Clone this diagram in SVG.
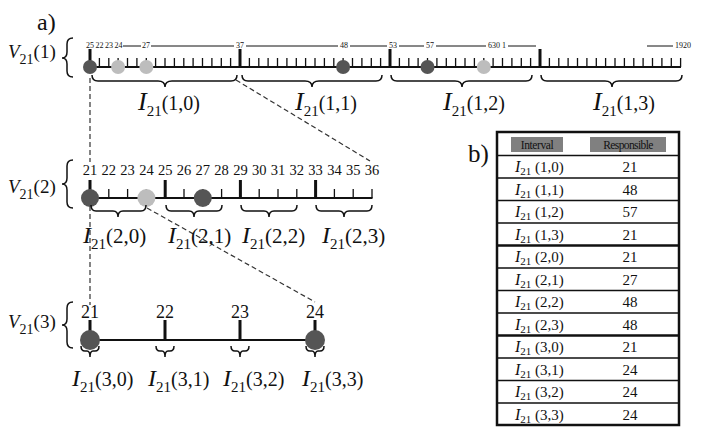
<svg xmlns="http://www.w3.org/2000/svg" xmlns:xlink="http://www.w3.org/1999/xlink" width="713" height="428" viewBox="0 0 713 428">
<style>
text{font-family:"Liberation Serif","Times New Roman",serif;fill:#111}
.it{font-style:italic}
.ln{stroke:#111;fill:none}
.brace{stroke:#111;fill:none;stroke-width:1.5}
.dash{stroke:#333;fill:none;stroke-width:1.2;stroke-dasharray:5,3}
.dark{fill:#555}
.light{fill:#bdbdbd}
.sm{font-size:8px}
.tb{font-size:15px}
</style>
<defs>
<g id="seg1">
<path class="ln" stroke-width="1.3" d="M99.4 58V67M108.8 58V67M118.1 58V67M127.5 58V67M136.9 58V67M146.3 58V67M155.6 58V67M165 58V67M174.4 58V67M183.8 58V67M193.1 58V67M202.5 58V67M211.9 58V67M221.3 58V67M230.6 58V67"/>
<path class="ln" stroke-width="3" d="M90 49V67"/>
</g>
</defs>
<rect width="713" height="428" fill="#fff"/>
<text x="37" y="30" font-size="24">a)</text>
<text x="468" y="162" font-size="25">b)</text>

<g id="connectors">
<path class="dash" stroke="#666" d="M90 78V162"/>
<path class="dash" stroke="#666" d="M90 206V305"/>
<path class="dash" d="M236 80L370 161"/>
<path class="dash" d="M147 208L315 302"/>
</g>

<g id="level1">
<text x="8" y="58"><tspan class="it" font-size="19">V</tspan><tspan font-size="14" dy="6">21</tspan><tspan font-size="19" dy="-6">(1)</tspan></text>
<path class="brace" d="M73 38Q67 38 67 44V52Q67 58 62 58Q67 58 67 64V71Q67 77 73 77"/>
<path class="ln" stroke-width="1" d="M123 46H141M151 46H234M246 46H338M350 46H387M399 46H424M436 46H486M508 46H536M647 46H673"/>
<text class="sm" x="90" y="48" text-anchor="middle">25</text>
<text class="sm" x="99.5" y="48" text-anchor="middle">22</text>
<text class="sm" x="109" y="48" text-anchor="middle">23</text>
<text class="sm" x="118.5" y="48" text-anchor="middle">24</text>
<text class="sm" x="146" y="48" text-anchor="middle">27</text>
<text class="sm" x="240" y="48" text-anchor="middle">37</text>
<text class="sm" x="344" y="48" text-anchor="middle">48</text>
<text class="sm" x="393" y="48" text-anchor="middle">53</text>
<text class="sm" x="430" y="48" text-anchor="middle">57</text>
<text class="sm" x="497" y="48" text-anchor="middle">630 1</text>
<text class="sm" x="683" y="48" text-anchor="middle">1920</text>
<use xlink:href="#seg1"/>
<use xlink:href="#seg1" x="150"/>
<use xlink:href="#seg1" x="300"/>
<use xlink:href="#seg1" x="450"/>
<path class="ln" stroke-width="2" d="M90 67H681"/>
<circle class="dark" cx="90" cy="67" r="7"/>
<circle class="light" cx="118.1" cy="67" r="7"/>
<circle class="light" cx="146.3" cy="67" r="7"/>
<circle class="dark" cx="343.1" cy="67" r="7"/>
<circle class="dark" cx="427.5" cy="67" r="7"/>
<circle class="light" cx="483.8" cy="67" r="7"/>
<path class="brace" d="M92 75Q92 81 98 81H158Q165 81 165 87Q165 81 172 81H231Q237 81 237 75"/>
<path class="brace" d="M242 75Q242 81 248 81H305Q312 81 312 87Q312 81 319 81H376Q382 81 382 75"/>
<path class="brace" d="M391 75Q391 81 397 81H455Q462 81 462 87Q462 81 469 81H526Q532 81 532 75"/>
<path class="brace" d="M541 75Q541 81 547 81H605Q612 81 612 87Q612 81 619 81H676Q682 81 682 75"/>
<text x="138" y="110"><tspan class="it" font-size="26">I</tspan><tspan font-size="15" dy="6">21</tspan><tspan font-size="20" dy="-6">(1,0)</tspan></text>
<text x="295" y="110"><tspan class="it" font-size="26">I</tspan><tspan font-size="15" dy="6">21</tspan><tspan font-size="20" dy="-6">(1,1)</tspan></text>
<text x="443" y="110"><tspan class="it" font-size="26">I</tspan><tspan font-size="15" dy="6">21</tspan><tspan font-size="20" dy="-6">(1,2)</tspan></text>
<text x="593" y="110"><tspan class="it" font-size="26">I</tspan><tspan font-size="15" dy="6">21</tspan><tspan font-size="20" dy="-6">(1,3)</tspan></text>
</g>

<g id="level2">
<text x="8" y="193"><tspan class="it" font-size="19">V</tspan><tspan font-size="14" dy="6">21</tspan><tspan font-size="19" dy="-6">(2)</tspan></text>
<path class="brace" d="M73 160Q67 160 67 166V178Q67 184 62 184Q67 184 67 190V202Q67 208 73 208"/>
<g font-size="14.5" text-anchor="middle">
<text x="90" y="175">21</text><text x="108.8" y="175">22</text><text x="127.6" y="175">23</text><text x="146.4" y="175">24</text>
<text x="165.2" y="175">25</text><text x="184" y="175">26</text><text x="202.8" y="175">27</text><text x="221.6" y="175">28</text>
<text x="240.4" y="175">29</text><text x="259.2" y="175">30</text><text x="278" y="175">31</text><text x="296.8" y="175">32</text>
<text x="315.6" y="175">33</text><text x="334.4" y="175">34</text><text x="353.2" y="175">35</text><text x="372" y="175">36</text>
</g>
<path class="ln" stroke-width="1.3" d="M108.8 189V198M127.6 189V198M146.4 189V198M184 189V198M202.8 189V198M221.6 189V198M259.2 189V198M278 189V198M296.8 189V198M334.4 189V198M353.2 189V198M372 189V198"/>
<path class="ln" stroke-width="3" d="M90 180V198M165.2 180V198M240.4 180V198M315.6 180V198"/>
<path class="ln" stroke-width="2" d="M90 198H372.5"/>
<circle class="dark" cx="90" cy="198" r="9"/>
<circle class="light" cx="146.4" cy="198" r="9"/>
<circle class="dark" cx="202.8" cy="198" r="9"/>
<path class="brace" d="M91 205Q91 211 96 211H113Q118 211 118 217Q118 211 123 211H141Q146 211 146 205"/>
<path class="brace" d="M166 205Q166 211 171 211H189Q194 211 194 217Q194 211 199 211H217Q222 211 222 205"/>
<path class="brace" d="M241 205Q241 211 246 211H264Q269 211 269 217Q269 211 274 211H292Q297 211 297 205"/>
<path class="brace" d="M316 205Q316 211 321 211H339Q344 211 344 217Q344 211 349 211H367Q372 211 372 205"/>
<text x="83" y="243"><tspan class="it" font-size="24">I</tspan><tspan font-size="15" dy="6">21</tspan><tspan font-size="21" dy="-6">(2,0)</tspan></text>
<text x="168" y="243"><tspan class="it" font-size="24">I</tspan><tspan font-size="15" dy="6">21</tspan><tspan font-size="21" dy="-6">(2,1)</tspan></text>
<text x="242" y="243"><tspan class="it" font-size="24">I</tspan><tspan font-size="15" dy="6">21</tspan><tspan font-size="21" dy="-6">(2,2)</tspan></text>
<text x="322" y="243"><tspan class="it" font-size="24">I</tspan><tspan font-size="15" dy="6">21</tspan><tspan font-size="21" dy="-6">(2,3)</tspan></text>
</g>

<g id="level3">
<text x="8" y="328"><tspan class="it" font-size="19">V</tspan><tspan font-size="14" dy="6">21</tspan><tspan font-size="19" dy="-6">(3)</tspan></text>
<path class="brace" d="M73 302Q67 302 67 308V319Q67 325 62 325Q67 325 67 331V342Q67 348 73 348"/>
<g font-size="18" text-anchor="middle">
<text x="90" y="318">21</text><text x="165" y="318">22</text><text x="240" y="318">23</text><text x="315" y="318">24</text>
</g>
<path class="ln" stroke-width="3" d="M90 320V340M165 320V340M240 320V340M315 320V340"/>
<path class="ln" stroke-width="2" d="M90 340H315"/>
<circle class="dark" cx="90" cy="340" r="10"/>
<circle class="dark" cx="315" cy="340" r="10"/>
<path class="brace" d="M81 346Q81 351 85 351H87Q90 351 90 357Q90 351 93 351H95Q99 351 99 346"/>
<path class="brace" d="M156 346Q156 351 160 351H162Q165 351 165 357Q165 351 168 351H170Q174 351 174 346"/>
<path class="brace" d="M231 346Q231 351 235 351H237Q240 351 240 357Q240 351 243 351H245Q249 351 249 346"/>
<path class="brace" d="M306 346Q306 351 310 351H312Q315 351 315 357Q315 351 318 351H320Q324 351 324 346"/>
<text x="72" y="386"><tspan class="it" font-size="24">I</tspan><tspan font-size="15" dy="6">21</tspan><tspan font-size="20" dy="-6">(3,0)</tspan></text>
<text x="148" y="386"><tspan class="it" font-size="24">I</tspan><tspan font-size="15" dy="6">21</tspan><tspan font-size="20" dy="-6">(3,1)</tspan></text>
<text x="223" y="386"><tspan class="it" font-size="24">I</tspan><tspan font-size="15" dy="6">21</tspan><tspan font-size="20" dy="-6">(3,2)</tspan></text>
<text x="302" y="386"><tspan class="it" font-size="24">I</tspan><tspan font-size="15" dy="6">21</tspan><tspan font-size="20" dy="-6">(3,3)</tspan></text>
</g>

<g id="table">
<rect x="497" y="132" width="182" height="293" fill="none" stroke="#111" stroke-width="2.5"/>
<rect x="511" y="137" width="52" height="15" fill="#808080"/>
<rect x="590" y="137" width="76" height="15" fill="#808080"/>
<text x="537" y="149" font-size="11.5" text-anchor="middle" letter-spacing="-0.4">Interval</text>
<text x="628" y="149" font-size="11.5" text-anchor="middle" letter-spacing="-0.6">Responsible</text>
<path class="ln" stroke-width="1.3" d="M497 155.5H679M497 178H679M497 200.5H679M497 223H679M497 268H679M497 290.5H679M497 313H679M497 358H679M497 380.5H679M497 403H679"/>
<path class="ln" stroke-width="2.5" d="M497 245.5H679M497 335.5H679"/>
<g class="tb">
<text x="515" y="172"><tspan class="it" font-size="16">I</tspan><tspan font-size="11" dy="3">21</tspan><tspan dy="-3"> (1,0)</tspan></text><text x="630" y="172" text-anchor="middle">21</text>
<text x="515" y="194.5"><tspan class="it" font-size="16">I</tspan><tspan font-size="11" dy="3">21</tspan><tspan dy="-3"> (1,1)</tspan></text><text x="630" y="194.5" text-anchor="middle">48</text>
<text x="515" y="217"><tspan class="it" font-size="16">I</tspan><tspan font-size="11" dy="3">21</tspan><tspan dy="-3"> (1,2)</tspan></text><text x="630" y="217" text-anchor="middle">57</text>
<text x="515" y="239.5"><tspan class="it" font-size="16">I</tspan><tspan font-size="11" dy="3">21</tspan><tspan dy="-3"> (1,3)</tspan></text><text x="630" y="239.5" text-anchor="middle">21</text>
<text x="515" y="262"><tspan class="it" font-size="16">I</tspan><tspan font-size="11" dy="3">21</tspan><tspan dy="-3"> (2,0)</tspan></text><text x="630" y="262" text-anchor="middle">21</text>
<text x="515" y="284.5"><tspan class="it" font-size="16">I</tspan><tspan font-size="11" dy="3">21</tspan><tspan dy="-3"> (2,1)</tspan></text><text x="630" y="284.5" text-anchor="middle">27</text>
<text x="515" y="307"><tspan class="it" font-size="16">I</tspan><tspan font-size="11" dy="3">21</tspan><tspan dy="-3"> (2,2)</tspan></text><text x="630" y="307" text-anchor="middle">48</text>
<text x="515" y="329.5"><tspan class="it" font-size="16">I</tspan><tspan font-size="11" dy="3">21</tspan><tspan dy="-3"> (2,3)</tspan></text><text x="630" y="329.5" text-anchor="middle">48</text>
<text x="515" y="352"><tspan class="it" font-size="16">I</tspan><tspan font-size="11" dy="3">21</tspan><tspan dy="-3"> (3,0)</tspan></text><text x="630" y="352" text-anchor="middle">21</text>
<text x="515" y="374.5"><tspan class="it" font-size="16">I</tspan><tspan font-size="11" dy="3">21</tspan><tspan dy="-3"> (3,1)</tspan></text><text x="630" y="374.5" text-anchor="middle">24</text>
<text x="515" y="397"><tspan class="it" font-size="16">I</tspan><tspan font-size="11" dy="3">21</tspan><tspan dy="-3"> (3,2)</tspan></text><text x="630" y="397" text-anchor="middle">24</text>
<text x="515" y="419.5"><tspan class="it" font-size="16">I</tspan><tspan font-size="11" dy="3">21</tspan><tspan dy="-3"> (3,3)</tspan></text><text x="630" y="419.5" text-anchor="middle">24</text>
</g>
</g>
</svg>
